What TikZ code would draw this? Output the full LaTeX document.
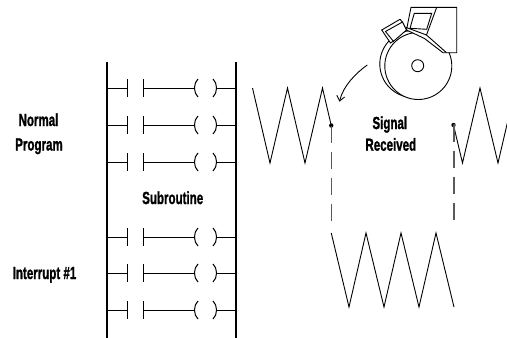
\documentclass[tikz,border=0pt]{standalone}
\usepackage{fontspec}
\setmainfont{Liberation Sans}
\newfontfamily\lblfont[BoldFeatures={FakeBold=1.6}]{Liberation Sans}
\usepackage{graphicx}
\usetikzlibrary{arrows.meta}
\newcommand\sqz[1]{\scalebox{0.66}[1]{#1}}
\begin{document}
\begin{tikzpicture}[x=1pt,y=-1pt,
  lbl/.style={font=\lblfont\fontsize{17.5}{21}\selectfont\bfseries, inner sep=0pt, anchor=base},
  rail/.style={line width=1.1pt},
  wire/.style={line width=1pt},
  wave/.style={line width=0.9pt, line join=miter},
  dsh/.style={line width=1.4pt, draw=black!65, dash pattern=on 17pt off 9pt},
  dotn/.style={circle, fill, inner sep=0pt, minimum size=4.4pt},
  icon/.style={line width=0.9pt, fill=white, line join=miter},
  iline/.style={line width=0.9pt, line join=miter},
  arr/.style={line width=0.9pt, -{Straight Barb[length=5pt,width=8pt]}},
]
\useasboundingbox (0,0) rectangle (507,338);
% rails
\coordinate (lt) at (107,62); \coordinate (lb) at (107,338);
\coordinate (rt) at (236,62); \coordinate (rb) at (236,338);
\draw[rail] (lt) -- (lb);
\draw[rail] (rt) -- (rb);
% rungs
\foreach \y in {88,125,162,237,273,310}{
  \draw[wire] (107,\y) -- (127.5,\y);
  \draw[wire] (127.5,\y-9) -- (127.5,\y+9);
  \draw[wire] (143,\y-9) -- (143,\y+9);
  \draw[wire] (143,\y) -- (194.5,\y);
  \draw[wire] (198,\y-9) .. controls (193.3,\y-5) and (193.3,\y+5) .. (198,\y+9);
  \draw[wire] (213,\y-9) .. controls (217.7,\y-5) and (217.7,\y+5) .. (213,\y+9);
  \draw[wire] (216.5,\y) -- (236,\y);
}
% labels
\node[lbl] (normal) at (38.5,126) {\sqz{Normal}};
\node[lbl] (program) at (39,150.5) {\sqz{Program}};
\node[lbl] (sub) at (172.7,204) {\sqz{Subroutine}};
\node[lbl] (intr) at (44.5,279) {\sqz{Interrupt \#1}};
\node[lbl] (signal) at (389.8,129) {\sqz{Signal}};
\node[lbl] (recv) at (390.8,150.7) {\sqz{Received}};
% waves
\draw[wave] (252.5,88) -- (270,163) -- (287.5,88) -- (305,163) -- (322.5,88) -- (331.25,125.5);
\draw[wave] (453.5,125) -- (462.5,163) -- (480,88) -- (498,163) -- (515.5,88);
\draw[wave] (331.25,233) -- (349,307) -- (366,233) -- (384,307) -- (401,233) -- (419,307) -- (436,233) -- (454,307);
% dots and dashed lines
\node[dotn] (d1) at (331.25,125.5) {};
\node[dotn] (d2) at (453.5,125) {};
\coordinate (d1b) at (331.25,222);
\coordinate (d2b) at (453.8,222);
\draw[dsh] (d1.center) -- (d1b);
\draw[dsh] (d2.center) -- (453.8,125) -- (d2b);
% icon: disk (back edge and front face)
\draw[icon] (413.3,64) circle (33.5);
\draw[icon] (418.3,66) circle (33.5);
\draw[icon] (417.7,65.7) circle (6);
% knob (bent strip)
\draw[icon] (381.7,30) -- (400,19.3) -- (402.5,22) -- (406.5,30) -- (395,40) -- (390.5,43) -- cycle;
\draw[iline] (402.5,22) -- (385.5,31.5) -- (393.8,41.8);
% box with window
\draw[icon] (411,7.3) -- (456.7,7.3) -- (456.7,52.7) -- (443,52.7) -- (424.5,38.5) -- (406.5,30) -- cycle;
\draw[iline] (436.7,7.3) -- (426.5,35) -- (446.5,52.7);
\draw[iline] (426.5,35) -- (405.7,27.3);
\draw[icon] (414.3,13.3) -- (431.7,13.3) -- (426.7,29.3) -- (410,28.3) -- cycle;
% arrow
\coordinate (as) at (367.3,65);
\coordinate (ae) at (339.5,101.7);
\draw[arr] (as) .. controls (356,73) and (343,86) .. (ae);
\end{tikzpicture}
\end{document}
